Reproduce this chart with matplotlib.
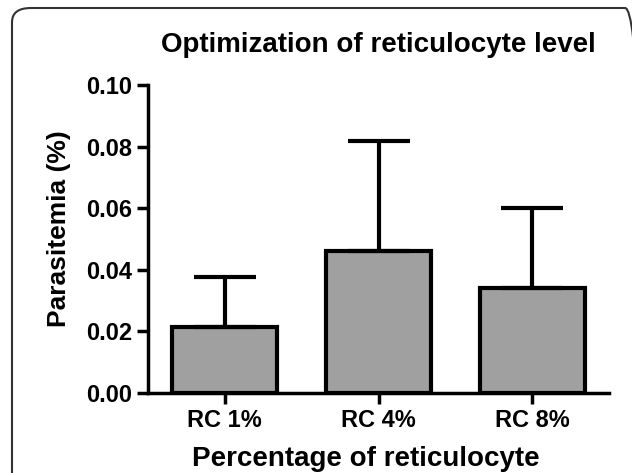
import matplotlib.pyplot as plt
from matplotlib.patches import FancyBboxPatch

categories = ["RC 1%", "RC 4%", "RC 8%"]
means = [0.0215, 0.0460, 0.0342]
errors = [0.0163, 0.0357, 0.0258]

plt.rcParams["font.family"] = ["Liberation Sans", "DejaVu Sans"]
plt.rcParams["font.weight"] = "bold"

fig = plt.figure(figsize=(6.32, 4.73), dpi=100)
ax = fig.add_axes([0.234, 0.169, 0.730, 0.651])

x = range(len(categories))
ax.bar(x, means, width=0.68, color="#a0a0a0", edgecolor="black", linewidth=3,
       yerr=[[0] * len(errors), errors], capsize=22,
       error_kw=dict(elinewidth=3, capthick=3, ecolor="black"))

ax.set_xlim(-0.5, 2.5)
ax.set_ylim(0, 0.10)
ax.set_yticks([0.00, 0.02, 0.04, 0.06, 0.08, 0.10])
ax.set_yticklabels(["0.00", "0.02", "0.04", "0.06", "0.08", "0.10"])
ax.set_xticks(list(x))
ax.set_xticklabels(categories)

for side in ["top", "right"]:
    ax.spines[side].set_visible(False)
for side in ["left", "bottom"]:
    ax.spines[side].set_linewidth(2.5)
ax.tick_params(axis="both", width=2.5, length=8)
ax.tick_params(axis="x", labelsize=17)
ax.tick_params(axis="y", labelsize=17)
for lbl in ax.get_xticklabels() + ax.get_yticklabels():
    lbl.set_fontweight("bold")

ax.set_title("Optimization of reticulocyte level", fontsize=20, fontweight="bold", pad=24)
ax.set_ylabel("Parasitemia (%)", fontsize=19, fontweight="bold", labelpad=11)
ax.yaxis.label.set_y(0.535)
ax.set_xlabel("Percentage of reticulocyte", fontsize=20, fontweight="bold", labelpad=10)
ax.xaxis.label.set_x(0.472)

# rounded border around the figure
frame = FancyBboxPatch((12 / 632, -0.1), 1.0, 1.0 - 8 / 473 + 0.1,
                       boxstyle="round,pad=0,rounding_size=0.03",
                       transform=fig.transFigure, fill=False,
                       edgecolor="#333333", linewidth=1.5, clip_on=False)
fig.patches.append(frame)

fig.savefig("out.png", dpi=100)
